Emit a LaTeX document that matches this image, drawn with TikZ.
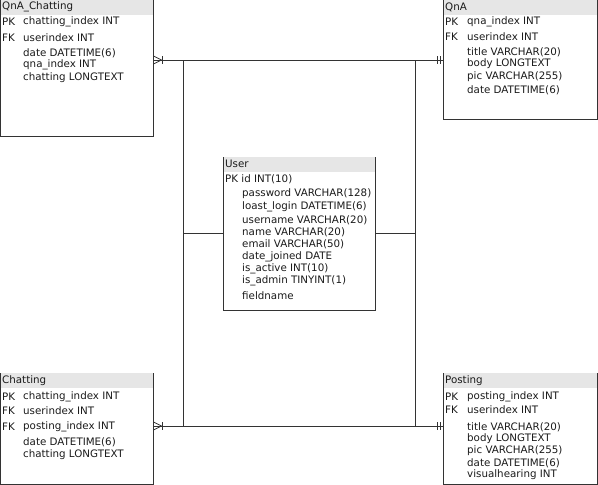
\documentclass[tikz,border=0pt]{standalone}
\usepackage{fontspec}
\setmainfont{DejaVu Sans}
\definecolor{hdrgray}{HTML}{E6E6E6}
\definecolor{linegray}{HTML}{333333}
\definecolor{txtcol}{HTML}{1A1A1A}
\tikzset{
  tbl/.style={inner sep=0pt, outer sep=0pt, anchor=north west},
  txt/.style={anchor=west, inner sep=0pt, font=\fontsize{10.3}{12}\selectfont, text=txtcol},
  conn/.style={draw=linegray, line width=0.8pt},
  border/.style={draw=linegray, line width=0.8pt},
}
\newcommand{\tblbox}[1]{%
  \fill[hdrgray] (#1.north west) rectangle ([yshift=-15pt]#1.north east);
  \draw[border] (#1.north west) -- (#1.south west) -- (#1.south east) -- (#1.north east);
}
\begin{document}
\begin{tikzpicture}[x=1pt,y=-1pt]
\useasboundingbox (0,0) rectangle (598,485);
% boxes
\node[tbl, minimum width=153pt, minimum height=136pt] (qc) at (0.5,0) {};
\node[tbl, minimum width=154pt, minimum height=119pt] (qna) at (443,0) {};
\node[tbl, minimum width=152pt, minimum height=153pt] (user) at (223,157) {};
\node[tbl, minimum width=153pt, minimum height=111pt] (chat) at (0.5,373) {};
\node[tbl, minimum width=154pt, minimum height=111pt] (post) at (443,373) {};
\tblbox{qc}
\tblbox{qna}
\tblbox{user}
\tblbox{chat}
\tblbox{post}
% QnA_Chatting
\node[txt] (qc0) at (2,7) {QnA\_Chatting};
\node[txt] (qc1k) at (2,22) {PK};
\node[txt] (qc1) at (23,22) {chatting\_index INT};
\node[txt] (qc2k) at (2,38) {FK};
\node[txt] (qc2) at (23,38) {userindex INT};
\node[txt] (qc3) at (23,53) {date DATETIME(6)};
\node[txt] (qc4) at (23,65) {qna\_index INT};
\node[txt] (qc5) at (23,78) {chatting LONGTEXT};
% QnA
\node[txt] (qn0) at (445,7) {QnA};
\node[txt] (qn1k) at (445,22) {PK};
\node[txt] (qn1) at (467,22) {qna\_index INT};
\node[txt] (qn2k) at (445,37) {FK};
\node[txt] (qn2) at (467,37) {userindex INT};
\node[txt] (qn3) at (467,52) {title VARCHAR(20)};
\node[txt] (qn4) at (467,64) {body LONGTEXT};
\node[txt] (qn5) at (467,77) {pic VARCHAR(255)};
\node[txt] (qn6) at (467,90) {date DATETIME(6)};
% User
\node[txt] (u0) at (225,164) {User};
\node[txt] (u1) at (225,179) {PK id INT(10)};
\node[txt] (u2) at (242,194) {password VARCHAR(128)};
\node[txt] (u3) at (242,207) {loast\_login DATETIME(6)};
\node[txt] (u4) at (242,220) {username VARCHAR(20)};
\node[txt] (u5) at (242,232) {name VARCHAR(20)};
\node[txt] (u6) at (242,244) {email VARCHAR(50)};
\node[txt] (u7) at (242,257) {date\_joined DATE};
\node[txt] (u8) at (242,269) {is\_active INT(10)};
\node[txt] (u9) at (242,281) {is\_admin TINYINT(1)};
\node[txt] (u10) at (242,296) {fieldname};
% Chatting
\node[txt] (c0) at (2,381) {Chatting};
\node[txt] (c1k) at (2,397) {PK};
\node[txt] (c1) at (23,397) {chatting\_index INT};
\node[txt] (c2k) at (2,411) {FK};
\node[txt] (c2) at (23,411) {userindex INT};
\node[txt] (c3k) at (2,427) {FK};
\node[txt] (c3) at (23,427) {posting\_index INT};
\node[txt] (c4) at (23,442) {date DATETIME(6)};
\node[txt] (c5) at (23,455) {chatting LONGTEXT};
% Posting
\node[txt] (p0) at (445,381) {Posting};
\node[txt] (p1k) at (445,397) {PK};
\node[txt] (p1) at (467,397) {posting\_index INT};
\node[txt] (p2k) at (445,410) {FK};
\node[txt] (p2) at (467,410) {userindex INT};
\node[txt] (p3) at (467,427) {title VARCHAR(20)};
\node[txt] (p4) at (467,439) {body LONGTEXT};
\node[txt] (p5) at (467,451) {pic VARCHAR(255)};
\node[txt] (p6) at (467,463) {date DATETIME(6)};
\node[txt] (p7) at (467,475) {visualhearing INT};
% connector routing points
\coordinate (tl) at (183,60);
\coordinate (bl) at (183,426);
\coordinate (tr) at (415,60);
\coordinate (br) at (415,426);
% connectors
\draw[conn] (qc.east |- tl) -- (qna.west |- tr);
\draw[conn] (chat.east |- bl) -- (post.west |- br);
\draw[conn] (tl) -- (bl);
\draw[conn] (tr) -- (br);
\draw[conn] (user.west) -- (user.west -| tl);
\draw[conn] (user.east) -- (user.east -| tr);
% crow's feet (many) at QnA_Chatting and Chatting
\foreach \e/\r in {qc/tl, chat/bl}{
  \draw[conn] ([yshift=4pt]\e.east |- \r) -- ([xshift=8pt]\e.east |- \r) -- ([yshift=-4pt]\e.east |- \r);
  \draw[conn] ([xshift=9pt,yshift=4pt]\e.east |- \r) -- ([xshift=9pt,yshift=-4pt]\e.east |- \r);
}
% mandatory one (double bars) at QnA and Posting
\foreach \e/\r in {qna/tr, post/br}{
  \draw[conn] ([xshift=-6pt,yshift=4pt]\e.west |- \r) -- ([xshift=-6pt,yshift=-4pt]\e.west |- \r);
  \draw[conn] ([xshift=-3pt,yshift=4pt]\e.west |- \r) -- ([xshift=-3pt,yshift=-4pt]\e.west |- \r);
}
\end{tikzpicture}
\end{document}
